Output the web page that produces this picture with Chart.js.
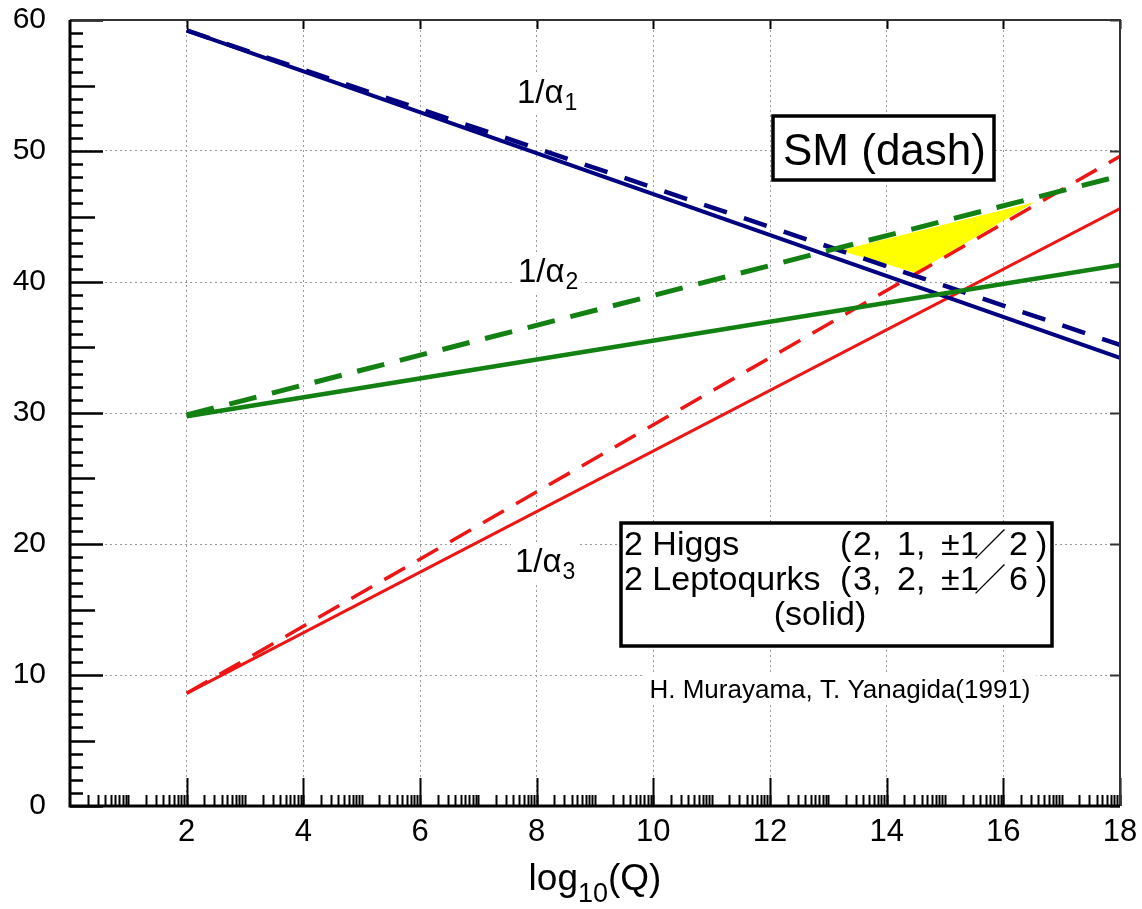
<!DOCTYPE html>
<html>
<head>
<meta charset="utf-8">
<script src="https://cdn.jsdelivr.net/npm/chart.js@4/dist/chart.umd.min.js"></script>
<style>
  html, body { margin: 0; padding: 0; background: #fff; }
  canvas { display: block; }
</style>
</head>
<body>
<canvas id="c" width="1142" height="909"></canvas>
<script>
// ---- data ----
const logQ = [2, 18];                       // end points of each running line
const inv1_SM = [59.2, 35.2];               // 1/alpha1, SM (dashed)
const inv1_new = [59.2, 34.2];              // 1/alpha1, 2 Higgs + 2 leptoquarks (solid)
const inv2_SM = [29.85, 48.1];              // 1/alpha2, SM (dashed)
const inv2_new = [29.75, 41.3];             // 1/alpha2, solid
const inv3_SM = [8.6, 49.6];                // 1/alpha3, SM (dashed)
const inv3_new = [8.6, 45.6];               // 1/alpha3, solid
const triX = [13.2, 16.54, 14.49];          // yellow SM mismatch triangle
const triY = [42.4, 46.1, 40.7];
const xTicks = [2, 4, 6, 8, 10, 12, 14, 16, 18];
const yTicks = [0, 10, 20, 30, 40, 50, 60];

const FONT = '"Liberation Sans", Arial, Helvetica, sans-serif';
const CJK = '"Noto Sans CJK JP", "Liberation Sans", sans-serif';
const NAVY = '#000080', GREEN = '#128012', RED = '#ee1515';

const pts = (xs, ys) => xs.map((x, i) => ({ x: x, y: ys[i] }));

function lineDs(xs, ys, color, width, dash) {
  return {
    data: pts(xs, ys), showLine: true, borderColor: color, borderWidth: width,
    borderDash: dash || [], pointRadius: 0, fill: false, tension: 0,
    borderCapStyle: 'butt'
  };
}

const datasets = [
  lineDs(logQ, inv2_new, GREEN, 4.5),
  lineDs(logQ, inv1_new, NAVY, 4),
  lineDs(logQ, inv2_SM, GREEN, 5, [28, 16]),
  lineDs(logQ, inv1_SM, NAVY, 4.5, [24, 18]),
  lineDs(logQ, inv3_new, RED, 3),
  lineDs(logQ, inv3_SM, RED, 3.5, [24, 14]),
  { data: pts(triX, triY), showLine: true, borderWidth: 0, borderColor: 'rgba(0,0,0,0)',
    backgroundColor: '#ffff00', fill: 'shape', pointRadius: 0 }
];

// frame, inward ticks, annotations
const decor = {
  id: 'decor',
  afterDatasetsDraw(chart) {
    const c = chart.ctx, a = chart.chartArea, sx = chart.scales.x, sy = chart.scales.y;
    c.save();
    // left ticks
    c.strokeStyle = '#000'; c.lineWidth = 2.5;
    for (let v = 0; v <= 60; v++) {
      const len = v % 10 === 0 ? 33 : (v % 5 === 0 ? 25 : 13);
      const y = Math.round(sy.getPixelForValue(v)) + 0.5;
      c.beginPath(); c.moveTo(a.left, y); c.lineTo(a.left + len, y); c.stroke();
    }
    // bottom ticks (log-style minor ticks within each unit)
    c.lineWidth = 2;
    for (let n = 0; n < 18; n++) {
      for (let k = 2; k <= 10; k++) {
        const v = n + Math.log10(k);
        const x = Math.round(sx.getPixelForValue(v)) + 0.5;
        c.beginPath(); c.moveTo(x, a.bottom); c.lineTo(x, a.bottom - 11); c.stroke();
      }
    }
    xTicks.forEach(v => {
      const x = Math.round(sx.getPixelForValue(v)) + 0.5;
      c.beginPath(); c.moveTo(x, a.bottom); c.lineTo(x, a.bottom - 28); c.stroke();
      c.beginPath(); c.moveTo(x, a.top); c.lineTo(x, a.top + 9); c.stroke();
    });
    // right ticks
    c.strokeStyle = '#333';
    yTicks.forEach(v => {
      const y = Math.round(sy.getPixelForValue(v)) + 0.5;
      c.beginPath(); c.moveTo(a.right, y); c.lineTo(a.right - 10, y); c.stroke();
    });
    // frame
    c.strokeStyle = '#333'; c.lineWidth = 2;
    c.beginPath(); c.moveTo(a.left, a.top); c.lineTo(a.right, a.top); c.lineTo(a.right, a.bottom); c.stroke();
    c.strokeStyle = '#000'; c.lineWidth = 3;
    c.beginPath(); c.moveTo(a.left, a.top); c.lineTo(a.left, a.bottom); c.lineTo(a.right, a.bottom); c.stroke();

    // 1/alpha labels
    c.fillStyle = '#000'; c.textBaseline = 'alphabetic'; c.textAlign = 'left';
    const alphaLabel = (x, y, sub) => {
      c.font = '33px ' + FONT;
      const w = c.measureText('1/\u03b1').width;
      c.font = '23px ' + FONT;
      const ws = c.measureText(sub).width;
      c.fillStyle = '#fff';
      c.fillRect(x - 4, y - 28, w + ws + 8, 40);
      c.fillStyle = '#000';
      c.font = '33px ' + FONT;
      c.fillText('1/\u03b1', x, y);
      c.font = '23px ' + FONT;
      c.fillText(sub, x + w + 1, y + 7);
    };
    alphaLabel(517, 103, '1');
    alphaLabel(518, 282, '2');
    alphaLabel(515, 572, '3');

    // SM (dash) box
    c.fillStyle = '#fff'; c.fillRect(773, 116, 221, 64);
    c.strokeStyle = '#000'; c.lineWidth = 3.5; c.strokeRect(773, 116, 221, 64);
    c.fillStyle = '#000'; c.font = '44px ' + FONT;
    c.fillText('SM (dash)', 783, 165);

    // model legend box
    c.fillStyle = '#fff'; c.fillRect(621, 523, 431, 123);
    c.strokeStyle = '#000'; c.lineWidth = 3.5; c.strokeRect(621, 523, 431, 123);
    c.fillStyle = '#000'; c.font = '34px ' + FONT;
    c.fillText('2 Higgs', 624, 555);
    c.fillText('2 Leptoqurks', 624, 590);
    const row = (y, t1, t2, t3) => {
      c.font = '34px ' + FONT;
      c.fillText('(', 840, y);
      c.fillText(t1, 853, y);
      c.fillText(t2, 897, y);
      c.fillText('\u00b1', 941, y);
      c.fillText('1', 960, y);
      c.fillText(t3, 1009, y);
      c.fillText(')', 1036, y);
      c.font = '32px ' + CJK;
      c.fillText('\uff0f', 974, y + 1);
    };
    row(555, '2,', '1,', '2');
    row(590, '3,', '2,', '6');
    c.font = '34px ' + FONT;
    c.textAlign = 'center';
    c.fillText('(solid)', 820, 625);

    // credit
    c.font = '26px ' + FONT;
    const credit = 'H. Murayama, T. Yanagida(1991)';
    const cw = c.measureText(credit).width;
    c.fillStyle = '#fff'; c.fillRect(840 - cw / 2 - 6, 672, cw + 12, 32);
    c.fillStyle = '#000';
    c.fillText(credit, 840, 698);

    // x-axis title log10(Q)
    c.textAlign = 'left';
    c.font = '37px ' + FONT;
    const w1 = c.measureText('log').width, w3 = c.measureText('(Q)').width;
    c.font = '27px ' + FONT;
    const w2 = c.measureText('10').width;
    const cx = (a.left + a.right) / 2;
    let x0 = cx - (w1 + w2 + w3) / 2;
    c.font = '37px ' + FONT; c.fillText('log', x0, 890);
    c.font = '27px ' + FONT; c.fillText('10', x0 + w1, 902);
    c.font = '37px ' + FONT; c.fillText('(Q)', x0 + w1 + w2, 890);
    c.restore();
  }
};

new Chart(document.getElementById('c'), {
  type: 'scatter',
  data: { datasets: datasets },
  options: {
    responsive: false, animation: false, devicePixelRatio: 1,
    layout: { padding: { top: 20, right: 22, left: 0, bottom: 0 } },
    plugins: { legend: { display: false }, tooltip: { enabled: false } },
    scales: {
      x: {
        type: 'linear', min: 0, max: 18,
        afterBuildTicks: s => { s.ticks = [0].concat(xTicks).map(v => ({ value: v })); },
        ticks: { callback: v => (v === 0 ? '' : String(v)), color: '#000',
                 font: { size: 31, family: FONT }, padding: 8, maxRotation: 0, autoSkip: false },
        grid: { color: '#9a9a9a', lineWidth: 1, drawTicks: false },
        border: { display: false, dash: [2, 3] },
        afterFit: s => { s.height = 103; s.paddingLeft = 0; s.paddingRight = 0; }
      },
      y: {
        type: 'linear', min: 0, max: 60,
        afterBuildTicks: s => { s.ticks = yTicks.map(v => ({ value: v })); },
        ticks: { color: '#000', font: { size: 30, family: FONT }, padding: 24 },
        grid: { color: '#9a9a9a', lineWidth: 1, drawTicks: false },
        border: { display: false, dash: [2, 3] },
        afterFit: s => { s.width = 70; s.paddingTop = 0; s.paddingBottom = 0; }
      }
    }
  },
  plugins: [decor]
});
</script>
</body>
</html>
